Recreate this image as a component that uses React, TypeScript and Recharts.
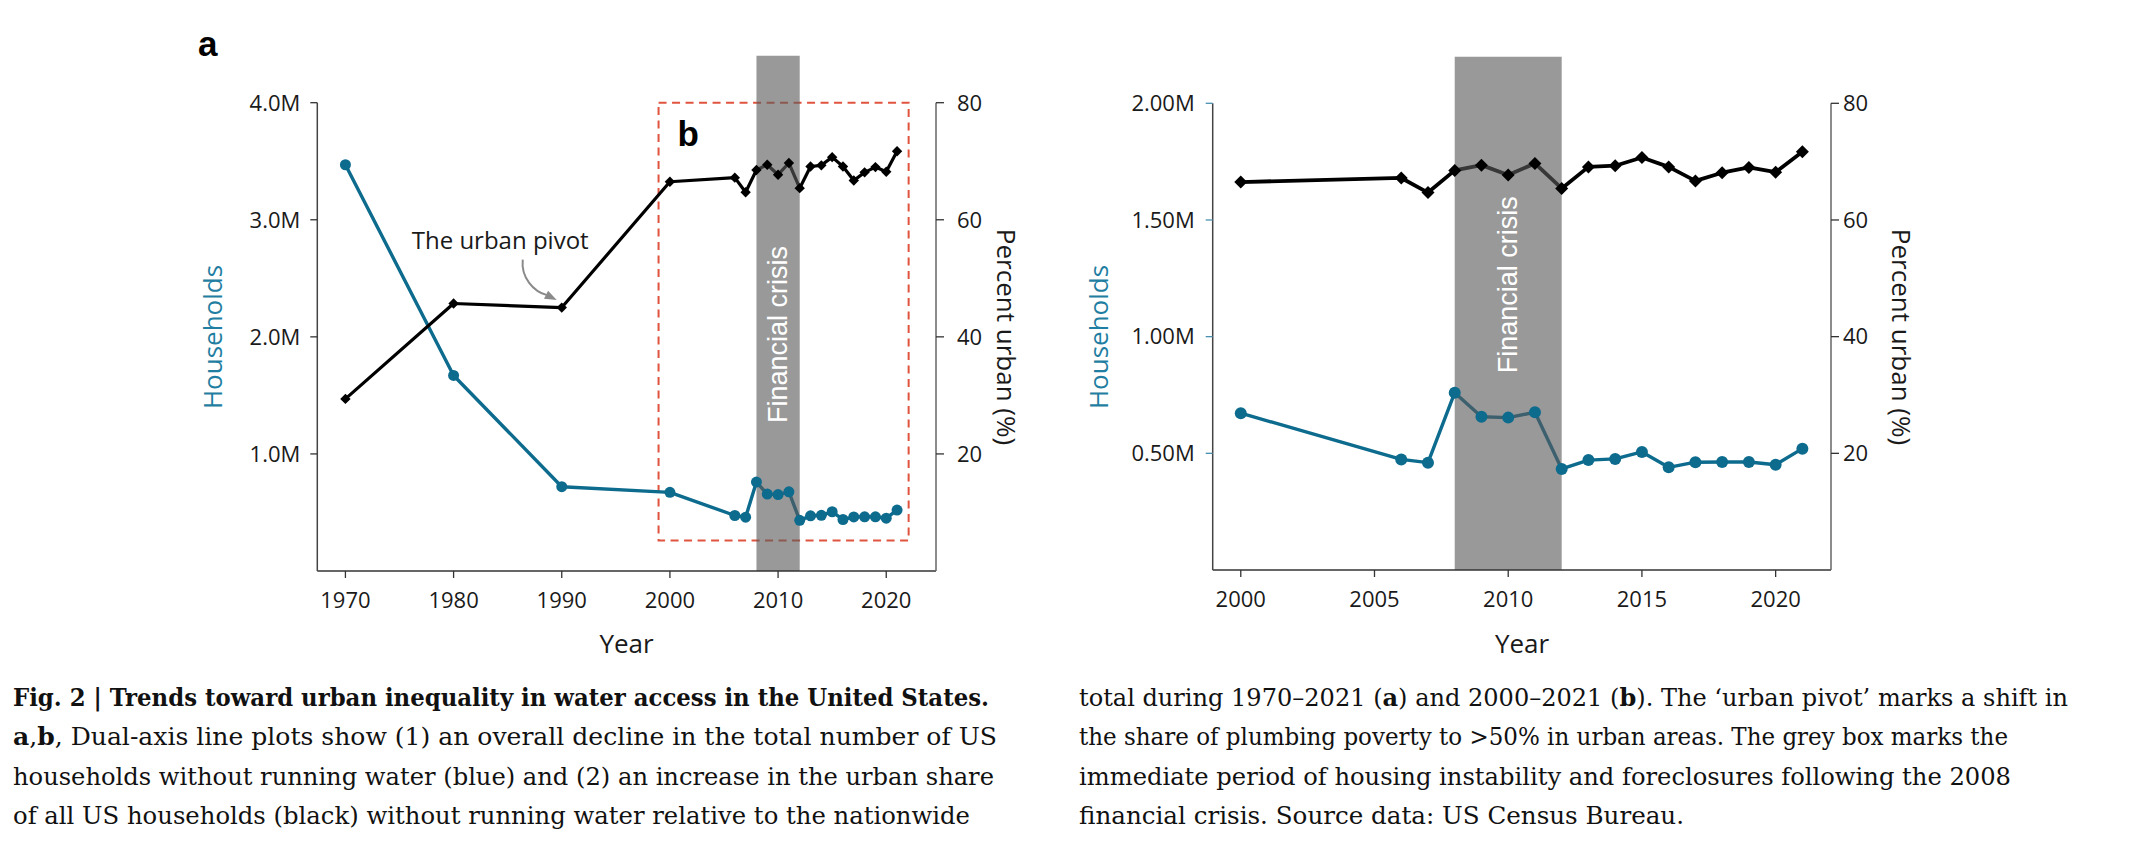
import React from "react";
import { LineChart, Line, XAxis, YAxis, ReferenceArea, ReferenceDot } from "recharts";

// census series
const years = [1970, 1980, 1990, 2000, 2006, 2007, 2008, 2009, 2010, 2011, 2012, 2013, 2014, 2015, 2016, 2017, 2018, 2019, 2020, 2021];
const households = [3470000, 1670000, 720000, 672000, 474000, 460000, 760000, 657000, 653000, 676000, 433000, 471000, 476000, 506000, 440000, 462000, 463000, 463000, 451000, 520000];
const percentUrban = [29.4, 45.7, 45.0, 66.5, 67.2, 64.7, 68.5, 69.4, 67.7, 69.7, 65.4, 69.1, 69.3, 70.7, 69.1, 66.7, 68.1, 69.0, 68.2, 71.7];

const crisisYears = [2008, 2012];
const pivotYear = 1990;
const zoomBoxYears = [1998.95, 2022.07];
const zoomBoxHouseholds = [260000, 4000000];

const yearTicksA = [1970, 1980, 1990, 2000, 2010, 2020];
const yearTicksB = [2000, 2005, 2010, 2015, 2020];
const householdTicksA = [1000000, 2000000, 3000000, 4000000];
const householdTicksB = [500000, 1000000, 1500000, 2000000];
const urbanTicks = [20, 40, 60, 80];

const rows = years.map((year, i) => ({ year, households: households[i], urban: percentUrban[i] }));
const rowsB = rows.filter((r) => r.year >= 2000);

const BLUE = "#0d6b8e";
const TEAL_LABEL = "#1f7ea1";
const SANS = "'Open Sans', sans-serif";
const HELV = "'Liberation Sans', Arial, sans-serif";
const SERIF = "'DejaVu Serif', serif";

function Diamond(props: any) {
  const { cx, cy, size } = props;
  if (cx == null || cy == null) return null;
  return (
    <path
      d={`M${cx},${cy - size}L${cx + size},${cy}L${cx},${cy + size}L${cx - size},${cy}Z`}
      fill="#000"
    />
  );
}

const bandLabel = (shift: number) => (props: any) => {
  const vb = props.viewBox;
  if (!vb) return null;
  const cx = vb.x + vb.width / 2;
  const cy = vb.y + vb.height / 2 + shift;
  return (
    <text
      x={cx}
      y={cy}
      transform={`rotate(-90 ${cx} ${cy})`}
      textAnchor="middle"
      dominantBaseline="central"
      fill="#fff"
      fontSize={27}
      fontFamily={HELV}
    >
      Financial crisis
    </text>
  );
};

const boxLabel = (props: any) => {
  const vb = props.viewBox;
  if (!vb) return null;
  return (
    <text x={vb.x + 19} y={vb.y + 43} fontSize={35} fontWeight={700} fontFamily={HELV} fill="#000">
      b
    </text>
  );
};

function PivotNote(props: any) {
  const { cx, cy } = props;
  if (cx == null || cy == null) return null;
  const tipX = cx - 5;
  const tipY = cy - 7.5;
  const ang = Math.atan2(3.4, 6.7);
  const back = 12;
  const half = 4.5;
  const bx = tipX - back * Math.cos(ang);
  const by = tipY - back * Math.sin(ang);
  const px = -Math.sin(ang) * half;
  const py = Math.cos(ang) * half;
  return (
    <g>
      <text x={cx - 150} y={cy - 59} fontSize={24} fontFamily={SANS} fill="#1a1a1a">
        The urban pivot
      </text>
      <path
        d={`M${cx - 39},${cy - 48} C${cx - 41},${cy - 30} ${cx - 28},${cy - 16} ${bx + 1},${by + 0.5}`}
        fill="none"
        stroke="#8a8a8a"
        strokeWidth={2}
      />
      <path d={`M${tipX},${tipY}L${bx + px},${by + py}L${bx - px},${by - py}Z`} fill="#8a8a8a" />
    </g>
  );
}

type PanelProps = {
  left: number;
  width: number;
  height: number;
  margin: { top: number; right: number; bottom: number; left: number };
  data: typeof rows;
  xDomain: number[];
  xTicks: number[];
  hhDomain: number[];
  hhTicks: number[];
  hhDigits: number;
  hhTickColor: string;
  leftTickMargin: number;
  rightTickMargin: number;
  bandTop: number;
  bandShift: number;
  blackWidth: number;
  blueWidth: number;
  diamond: number;
  dotR: number;
  showBox?: boolean;
  showPivot?: boolean;
};

function Panel(p: PanelProps) {
  const tickStyle = { fill: "#1a1a1a", fontSize: 22, fontFamily: SANS };
  return (
    <div style={{ position: "absolute", left: p.left, top: 0, width: p.width, height: p.height }}>
      <LineChart width={p.width} height={p.height} data={p.data} margin={p.margin}>
        <XAxis
          dataKey="year"
          type="number"
          domain={p.xDomain}
          ticks={p.xTicks}
          interval={0}
          allowDataOverflow
          height={30}
          tickSize={7}
          tickMargin={14}
          tick={tickStyle}
          tickLine={{ stroke: "#333", strokeWidth: 1.3 }}
          axisLine={{ stroke: "#333", strokeWidth: 1.5 }}
        />
        <YAxis
          yAxisId="hh"
          domain={p.hhDomain}
          ticks={p.hhTicks}
          interval={0}
          width={80}
          tickSize={7}
          tickMargin={p.leftTickMargin}
          tick={tickStyle}
          tickFormatter={(v: number) => `${(v / 1e6).toFixed(p.hhDigits)}M`}
          tickLine={{ stroke: p.hhTickColor, strokeWidth: 1.3 }}
          axisLine={{ stroke: "#444", strokeWidth: 1.5 }}
        />
        <YAxis
          yAxisId="pct"
          orientation="right"
          domain={[0, 80]}
          ticks={urbanTicks}
          interval={0}
          width={80}
          tickSize={8}
          tickMargin={p.rightTickMargin}
          tick={tickStyle}
          tickLine={{ stroke: "#333", strokeWidth: 1.3 }}
          axisLine={{ stroke: "#666", strokeWidth: 1.5 }}
        />
        {p.showBox && (
          <ReferenceArea
            yAxisId="hh"
            x1={zoomBoxYears[0]}
            x2={zoomBoxYears[1]}
            y1={zoomBoxHouseholds[0]}
            y2={zoomBoxHouseholds[1]}
            ifOverflow="visible"
            fill="none"
            stroke="#e0543f"
            strokeWidth={2}
            strokeDasharray="8 5.5"
            label={boxLabel}
          />
        )}
        <Line
          yAxisId="hh"
          dataKey="households"
          type="linear"
          stroke={BLUE}
          strokeWidth={p.blueWidth}
          strokeLinejoin="round"
          dot={{ r: p.dotR, fill: BLUE, stroke: BLUE, strokeWidth: 0 }}
          activeDot={false}
          isAnimationActive={false}
        />
        <Line
          yAxisId="pct"
          dataKey="urban"
          type="linear"
          stroke="#000"
          strokeWidth={p.blackWidth}
          strokeLinejoin="round"
          dot={(d: any) => <Diamond key={`dm-${d.index}`} cx={d.cx} cy={d.cy} size={p.diamond} />}
          activeDot={false}
          isAnimationActive={false}
        />
        {p.showPivot && (
          <ReferenceDot
            yAxisId="pct"
            x={pivotYear}
            y={percentUrban[years.indexOf(pivotYear)]}
            shape={(d: any) => <PivotNote cx={d.cx} cy={d.cy} />}
          />
        )}
        <ReferenceArea
          yAxisId="hh"
          x1={crisisYears[0]}
          x2={crisisYears[1]}
          y1={0}
          y2={p.bandTop}
          ifOverflow="visible"
          fill="#5a5a5a"
          fillOpacity={0.62}
          stroke="none"
          zIndex={450}
          label={bandLabel(p.bandShift)}
        />
      </LineChart>
    </div>
  );
}

const captionLeft = [
  { y: 706, w: 976 },
  { y: 745, w: 984 },
  { y: 785, w: 981 },
  { y: 824, w: 957 },
];
const captionRight = [
  { y: 706, w: 989 },
  { y: 745, w: 929 },
  { y: 785, w: 932 },
  { y: 824, w: 605 },
];

function Overlay() {
  const axisTitle = { fontSize: 26, fontFamily: SANS };
  const cap = { fontSize: 24, fontFamily: SERIF, fill: "#111" };
  const fit = "spacingAndGlyphs" as const;
  const B = (t: string) => <tspan fontWeight={700}>{t}</tspan>;
  return (
    <svg
      width={2133}
      height={853}
      style={{ position: "absolute", left: 0, top: 0, pointerEvents: "none" }}
    >
      <text x={198} y={56} fontSize={35} fontWeight={700} fontFamily={HELV} fill="#000">
        a
      </text>

      <text x={212} y={337} transform="rotate(-90 212 337)" textAnchor="middle" dominantBaseline="central" fill={TEAL_LABEL} {...axisTitle}>
        Households
      </text>
      <text x={1007} y={337} transform="rotate(90 1007 337)" textAnchor="middle" dominantBaseline="central" fill="#1a1a1a" {...axisTitle}>
        Percent urban (%)
      </text>
      <text x={626.5} y={653} textAnchor="middle" fill="#1a1a1a" {...axisTitle}>
        Year
      </text>

      <text x={1098} y={337} transform="rotate(-90 1098 337)" textAnchor="middle" dominantBaseline="central" fill={TEAL_LABEL} {...axisTitle}>
        Households
      </text>
      <text x={1902} y={337} transform="rotate(90 1902 337)" textAnchor="middle" dominantBaseline="central" fill="#1a1a1a" {...axisTitle}>
        Percent urban (%)
      </text>
      <text x={1522} y={653} textAnchor="middle" fill="#1a1a1a" {...axisTitle}>
        Year
      </text>

      <text x={13} y={captionLeft[0].y} textLength={captionLeft[0].w} lengthAdjust={fit} fontWeight={700} {...cap}>
        Fig. 2 | Trends toward urban inequality in water access in the United States.
      </text>
      <text x={13} y={captionLeft[1].y} textLength={captionLeft[1].w} lengthAdjust={fit} {...cap}>
        {B("a")}
        {","}
        {B("b")}
        {", Dual-axis line plots show (1) an overall decline in the total number of US"}
      </text>
      <text x={13} y={captionLeft[2].y} textLength={captionLeft[2].w} lengthAdjust={fit} {...cap}>
        households without running water (blue) and (2) an increase in the urban share
      </text>
      <text x={13} y={captionLeft[3].y} textLength={captionLeft[3].w} lengthAdjust={fit} {...cap}>
        of all US households (black) without running water relative to the nationwide
      </text>

      <text x={1079} y={captionRight[0].y} textLength={captionRight[0].w} lengthAdjust={fit} {...cap}>
        {"total during 1970–2021 ("}
        {B("a")}
        {") and 2000–2021 ("}
        {B("b")}
        {"). The ‘urban pivot’ marks a shift in"}
      </text>
      <text x={1079} y={captionRight[1].y} textLength={captionRight[1].w} lengthAdjust={fit} {...cap}>
        the share of plumbing poverty to &gt;50% in urban areas. The grey box marks the
      </text>
      <text x={1079} y={captionRight[2].y} textLength={captionRight[2].w} lengthAdjust={fit} {...cap}>
        immediate period of housing instability and foreclosures following the 2008
      </text>
      <text x={1079} y={captionRight[3].y} textLength={captionRight[3].w} lengthAdjust={fit} {...cap}>
        financial crisis. Source data: US Census Bureau.
      </text>
    </svg>
  );
}

export default function App() {
  return (
    <div style={{ position: "absolute", left: 0, top: 0, width: 2133, height: 853, background: "#fff" }}>
      <Panel
        left={0}
        width={1040}
        height={700}
        margin={{ top: 102.7, right: 24, bottom: 99, left: 237.3 }}
        data={rows}
        xDomain={[1967.4, 2024.6]}
        xTicks={yearTicksA}
        hhDomain={[0, 4000000]}
        hhTicks={householdTicksA}
        hhDigits={1}
        hhTickColor="#333"
        leftTickMargin={10}
        rightTickMargin={13}
        bandTop={4400000}
        bandShift={21}
        blackWidth={3.2}
        blueWidth={3.4}
        diamond={5.2}
        dotR={5.5}
        showBox
        showPivot
      />
      <Panel
        left={1100}
        width={900}
        height={700}
        margin={{ top: 103.3, right: 89, bottom: 100, left: 32.7 }}
        data={rowsB}
        xDomain={[1998.95, 2022.07]}
        xTicks={yearTicksB}
        hhDomain={[0, 2000000]}
        hhTicks={householdTicksB}
        hhDigits={2}
        hhTickColor="#4a90b0"
        leftTickMargin={11}
        rightTickMargin={4}
        bandTop={2200000}
        bandShift={-28.5}
        blackWidth={3.8}
        blueWidth={3.4}
        diamond={6.5}
        dotR={6}
      />
      <Overlay />
    </div>
  );
}
